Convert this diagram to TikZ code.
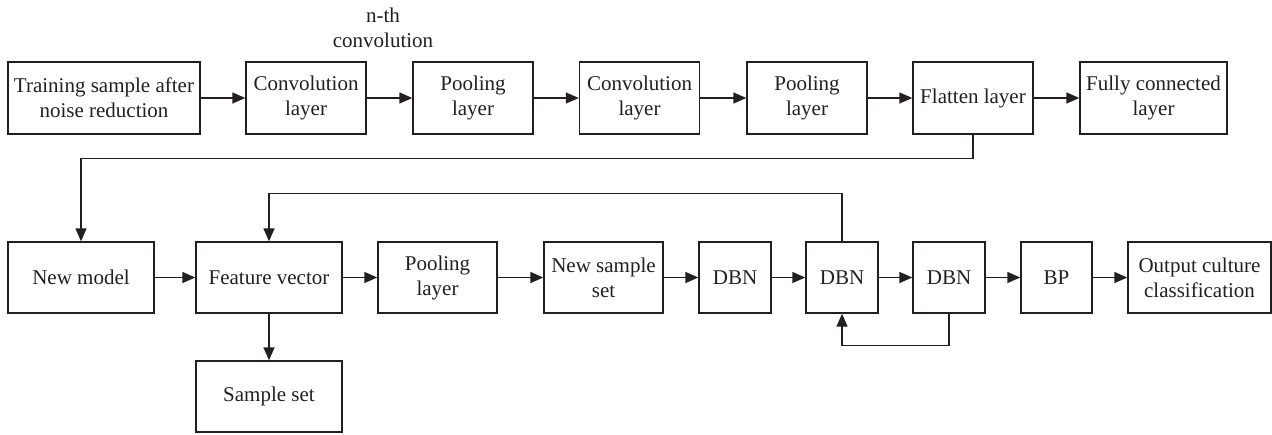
\documentclass[tikz,border=0pt]{standalone}
\usepackage{fontspec}
\setmainfont{Liberation Serif}
\usetikzlibrary{arrows.meta, calc}
\definecolor{ink}{RGB}{35,31,32}

\begin{document}
\begin{tikzpicture}[x=0.5pt, y=-0.5pt, color=ink]
        \tikzset{box/.style={draw, line width=0.7pt, minimum height=36pt, inner sep=1pt,
                align=center, font=\fontsize{10.5}{12.5}\selectfont},
            link/.style={line width=0.7pt, -{Triangle[length=6.5pt,width=5.5pt]}}}

        \useasboundingbox (0, 0) rectangle (1272, 434);

        % upper row
        \node[box, minimum width=96pt] (train) at (104, 98) {Training sample after\\noise reduction};
        \node[box, minimum width=60pt] (conv1) at (306, 98) {Convolution\\layer};
        \node[box, minimum width=60pt] (pool1) at (473, 98) {Pooling\\layer};
        \node[box, minimum width=60pt] (conv2) at (639.5, 98) {Convolution\\layer};
        \node[box, minimum width=60pt] (pool2) at (807, 98) {Pooling\\layer};
        \node[box, minimum width=60pt] (flat) at (973, 98) {Flatten layer};
        \node[box, minimum width=73.5pt] (fc) at (1153.5, 98) {Fully connected\\layer};
        \node[align=center, font=\fontsize{10.5}{12.5}\selectfont] (nth) at (383, 28) {n-th\\convolution};

        % lower row
        \node[box, minimum width=73pt, minimum height=35.5pt] (newmodel) at (81, 277.5) {New model};
        \node[box, minimum width=73pt, minimum height=35.5pt] (feat) at (269, 277.5) {Feature vector};
        \node[box, minimum width=59.5pt, minimum height=35.5pt] (pool3) at (437.5, 277.5) {Pooling\\layer};
        \node[box, minimum width=59.5pt, minimum height=35.5pt] (newset) at (603.5, 277.5) {New sample\\set};
        \node[box, minimum width=36pt, minimum height=35.5pt] (dbn1) at (735, 277.5) {DBN};
        \node[box, minimum width=36pt, minimum height=35.5pt] (dbn2) at (842, 277.5) {DBN};
        \node[box, minimum width=36pt, minimum height=35.5pt] (dbn3) at (949, 277.5) {DBN};
        \node[box, minimum width=35.5pt, minimum height=35.5pt] (bp) at (1056.5, 277.5) {BP};
        \node[box, minimum width=71.5pt, minimum height=35.5pt] (out) at (1199.5, 277.5) {Output culture\\classification};
        \node[box, minimum width=73pt, minimum height=35.5pt] (sample) at (269, 396.5) {Sample set};

        \foreach \a/\b in {train/conv1, conv1/pool1, pool1/conv2, conv2/pool2, pool2/flat, flat/fc,
            newmodel/feat, feat/pool3, pool3/newset, newset/dbn1, dbn1/dbn2, dbn2/dbn3, dbn3/bp, bp/out}
            \draw[link] (\a) -- (\b);

        \draw[link] (flat.south) -- ++(0, 24) -| (newmodel.north);
        \draw[link] (feat.south) -- (sample.north);
        \draw[link] (dbn2.north) -- ++(0, -48) -| (feat.north);
        \draw[link] (dbn3.south) -- ++(0, 32) -| (dbn2.south);
    \end{tikzpicture}
\end{document}
